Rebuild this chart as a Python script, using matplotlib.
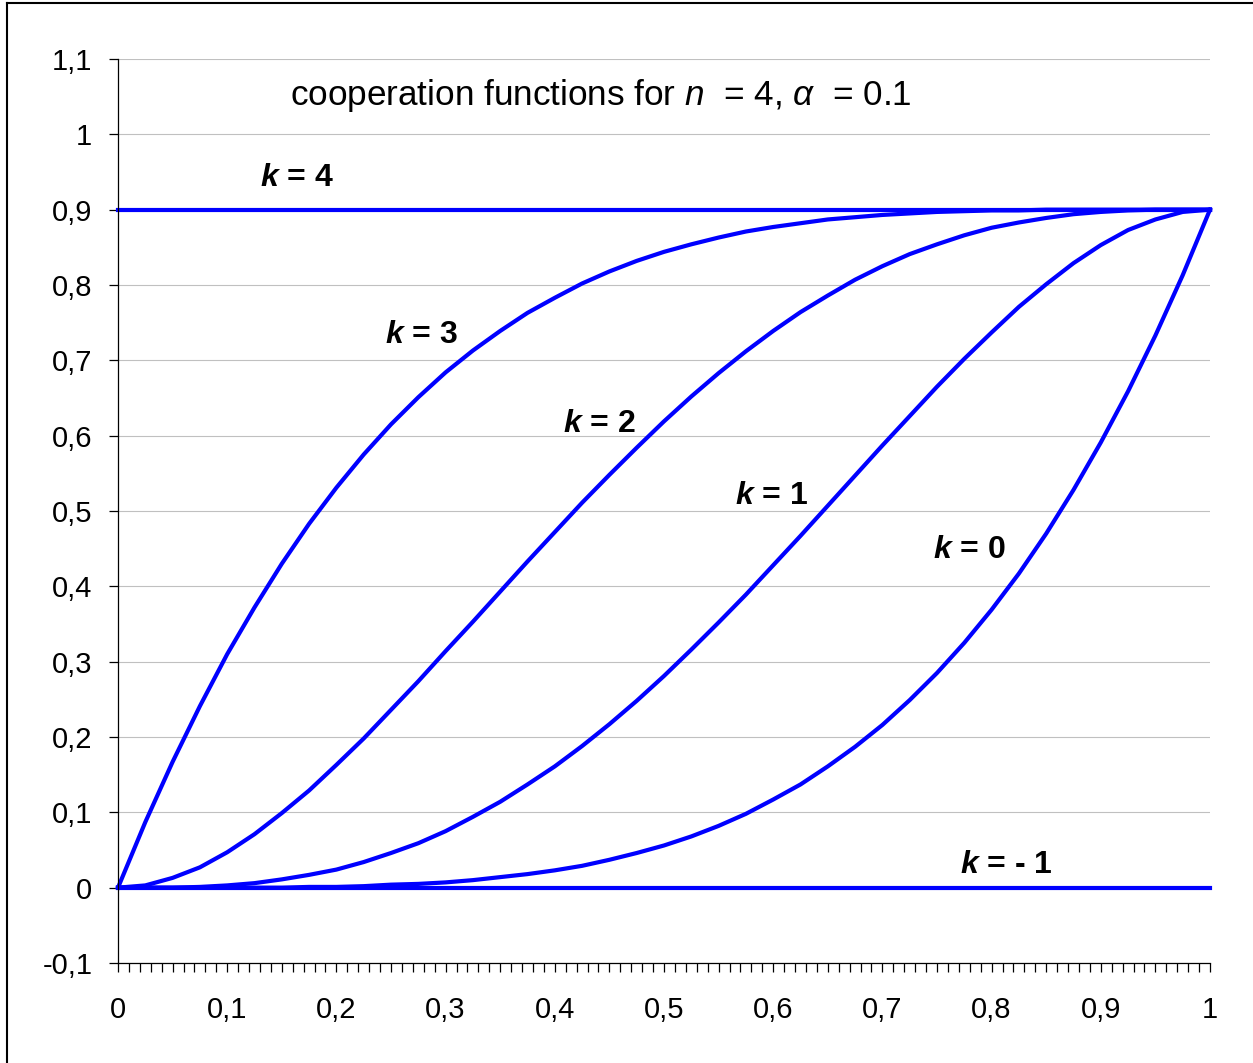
import matplotlib
matplotlib.use("Agg")
import matplotlib.pyplot as plt
from matplotlib.lines import Line2D
from matplotlib.ticker import MultipleLocator

plt.rcParams['font.family'] = ['Liberation Sans', 'DejaVu Sans']
plt.rcParams['mathtext.fontset'] = 'custom'
plt.rcParams['mathtext.rm'] = 'Liberation Sans'
plt.rcParams['mathtext.it'] = 'Liberation Sans:italic'
plt.rcParams['mathtext.bf'] = 'Liberation Sans:bold'
plt.rcParams['mathtext.bfit'] = 'Liberation Sans:italic:bold'

# values (x step 0.025)
x_vals = [0.000, 0.025, 0.050, 0.075, 0.100, 0.125, 0.150, 0.175, 0.200, 0.225,
          0.250, 0.275, 0.300, 0.325, 0.350, 0.375, 0.400, 0.425, 0.450, 0.475,
          0.500, 0.525, 0.550, 0.575, 0.600, 0.625, 0.650, 0.675, 0.700, 0.725,
          0.750, 0.775, 0.800, 0.825, 0.850, 0.875, 0.900, 0.925, 0.950, 0.975, 1.000]
k3 = [0.000, 0.087, 0.167, 0.241, 0.310, 0.372, 0.430, 0.483, 0.531, 0.575,
      0.615, 0.651, 0.684, 0.713, 0.739, 0.763, 0.783, 0.802, 0.818, 0.832,
      0.844, 0.854, 0.863, 0.871, 0.877, 0.882, 0.887, 0.890, 0.893, 0.895,
      0.897, 0.898, 0.899, 0.899, 0.900, 0.900, 0.900, 0.900, 0.900, 0.900, 0.900]
k2 = [0.000, 0.003, 0.013, 0.027, 0.047, 0.071, 0.099, 0.129, 0.163, 0.198,
      0.236, 0.274, 0.314, 0.353, 0.393, 0.433, 0.472, 0.511, 0.548, 0.584,
      0.619, 0.652, 0.683, 0.712, 0.739, 0.764, 0.786, 0.807, 0.825, 0.841,
      0.854, 0.866, 0.876, 0.883, 0.889, 0.894, 0.897, 0.899, 0.900, 0.900, 0.900]
k1 = [0.000, 0.000, 0.000, 0.001, 0.003, 0.006, 0.011, 0.017, 0.024, 0.034,
      0.046, 0.059, 0.075, 0.094, 0.114, 0.137, 0.161, 0.188, 0.217, 0.248,
      0.281, 0.316, 0.352, 0.389, 0.428, 0.467, 0.507, 0.547, 0.587, 0.626,
      0.665, 0.702, 0.737, 0.771, 0.801, 0.829, 0.853, 0.873, 0.887, 0.897, 0.900]
k0 = [0.000, 0.000, 0.000, 0.000, 0.000, 0.000, 0.000, 0.001, 0.001, 0.002,
      0.004, 0.005, 0.007, 0.010, 0.014, 0.018, 0.023, 0.029, 0.037, 0.046,
      0.056, 0.068, 0.082, 0.098, 0.117, 0.137, 0.161, 0.187, 0.216, 0.249,
      0.285, 0.325, 0.369, 0.417, 0.470, 0.528, 0.591, 0.659, 0.733, 0.813, 0.900]
x_flat = [0.0, 1.0]
k4 = [0.9, 0.9]
km1 = [0.0, 0.0]

y_ticks = [-0.1, 0.0, 0.1, 0.2, 0.3, 0.4, 0.5, 0.6, 0.7, 0.8, 0.9, 1.0, 1.1]
y_labels = ['-0,1', '0', '0,1', '0,2', '0,3', '0,4', '0,5', '0,6', '0,7', '0,8', '0,9', '1', '1,1']
x_ticks = [0.0, 0.1, 0.2, 0.3, 0.4, 0.5, 0.6, 0.7, 0.8, 0.9, 1.0]
x_labels = ['0', '0,1', '0,2', '0,3', '0,4', '0,5', '0,6', '0,7', '0,8', '0,9', '1']

fig = plt.figure(figsize=(12.53, 10.63), dpi=100)
ax = fig.add_axes([118 / 1253, 100 / 1063, 1092 / 1253, 904 / 1063])

blue = '#0000ff'
lw = 3.0
for ys in (k3, k2, k1, k0):
    ax.plot(x_vals, ys, color=blue, lw=lw, solid_joinstyle='round', clip_on=False)
ax.plot(x_flat, k4, color=blue, lw=lw, clip_on=False)
ax.plot(x_flat, km1, color=blue, lw=lw, clip_on=False)

ax.set_xlim(0, 1)
ax.set_ylim(-0.1, 1.1)
ax.set_yticks(y_ticks)
ax.set_yticklabels(y_labels)
ax.set_xticks(x_ticks)
ax.set_xticklabels(x_labels)
ax.xaxis.set_minor_locator(MultipleLocator(0.01))

ax.grid(axis='y', color='#c0c0c0', lw=0.8)
ax.set_axisbelow(True)
for s in ('top', 'right'):
    ax.spines[s].set_visible(False)
for s in ('left', 'bottom'):
    ax.spines[s].set_linewidth(0.9)

ax.tick_params(axis='y', direction='out', length=6.5, width=0.9, labelsize=21, pad=12)
ax.tick_params(axis='x', which='both', direction='out', length=6.5, width=0.9, labelsize=21, pad=17)

ax.text(0.1575, 1.052, r'cooperation functions for $n$  = 4, $\alpha$  = 0.1',
        fontsize=25.3, va='center', ha='left')

labels = [(0.130, 0.942, '4'), (0.2445, 0.733, '3'), (0.4075, 0.615, '2'),
          (0.565, 0.520, '1'), (0.746, 0.448, '0'), (0.771, 0.030, '- 1')]
for lx, ly, t in labels:
    ax.text(lx, ly, r'$\mathbfit{k}$ = ' + t, fontsize=23, fontweight='bold',
            va='center', ha='left')

# outer frame (left and top edges visible)
fig.add_artist(Line2D([7 / 1253, 7 / 1253], [0, 1 - 3 / 1063], color='black', lw=1.5,
                      transform=fig.transFigure))
fig.add_artist(Line2D([7 / 1253, 1], [1 - 3 / 1063, 1 - 3 / 1063], color='black', lw=1.5,
                      transform=fig.transFigure))

fig.savefig('out.png', dpi=100)
